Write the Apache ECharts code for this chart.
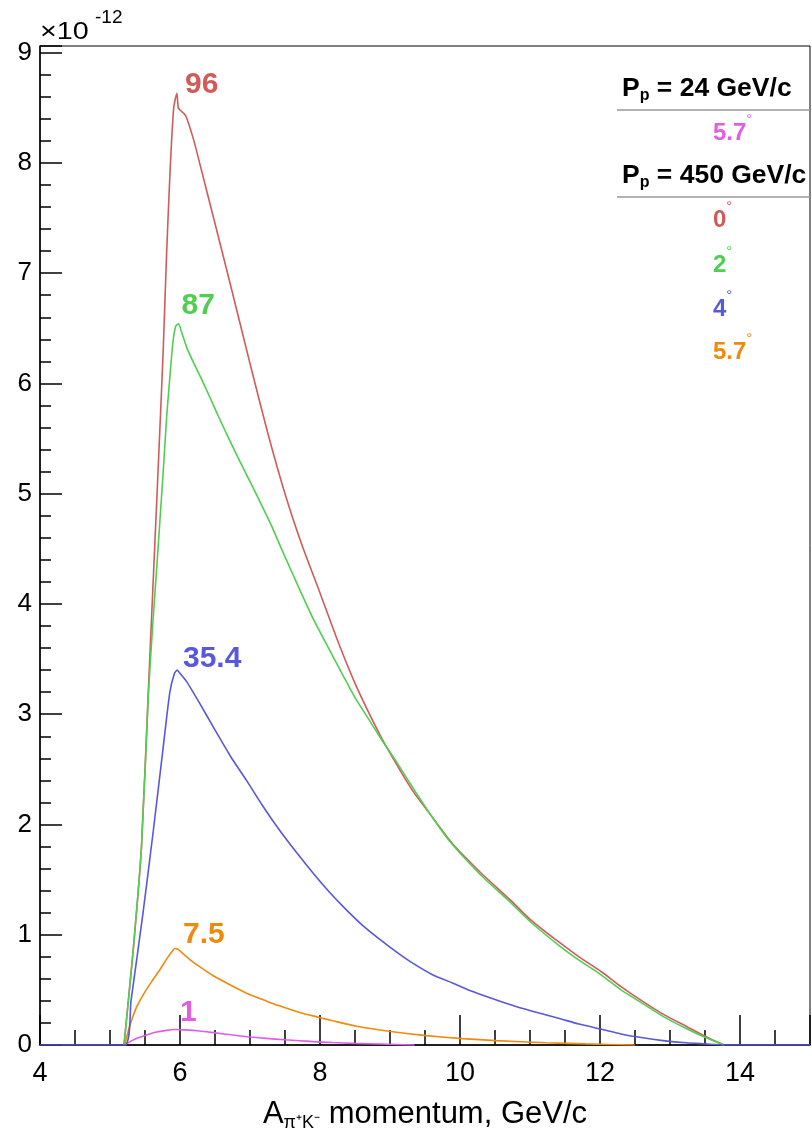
<!DOCTYPE html>
<html>
<head>
<meta charset="UTF-8">
<title>A momentum spectra</title>
<script src="https://cdn.jsdelivr.net/npm/echarts@6/dist/echarts.min.js"></script>
<style>
  html, body { margin: 0; padding: 0; background: #fff; }
  #main { width: 812px; height: 1131px; }
</style>
</head>
<body>
<div id="main"></div>
<script>
// yield (x 1e-12) vs A momentum (GeV/c)
const p24_deg57 = [[5.21,0],[5.3,0.035],[5.4,0.065],[5.52,0.09],[5.65,0.115],[5.81,0.133],[5.93,0.14],[6.05,0.137],[6.28,0.127],[6.5,0.11],[6.76,0.09],[6.95,0.075],[7.23,0.06],[7.5,0.047],[7.71,0.039],[7.9,0.031],[8.18,0.022],[8.5,0.015],[8.85,0.009],[9.1,0.005],[9.35,0]];
const p450_deg0 = [[5.2,0],[5.33,0.85],[5.45,1.8],[5.55,3.25],[5.62,4.25],[5.71,5.55],[5.76,6.3],[5.81,7.2],[5.86,7.95],[5.91,8.5],[5.955,8.63],[5.975,8.5],[6.0,8.48],[6.08,8.43],[6.19,8.22],[6.28,8.0],[6.5,7.45],[6.75,6.82],[7.0,6.18],[7.25,5.56],[7.5,5.0],[7.75,4.52],[8.0,4.1],[8.25,3.67],[8.5,3.28],[8.85,2.82],[9.09,2.55],[9.33,2.3],[9.6,2.07],[9.9,1.82],[10.3,1.56],[10.71,1.32],[11.0,1.14],[11.42,0.93],[11.7,0.8],[12.03,0.66],[12.3,0.53],[12.6,0.4],[12.9,0.28],[13.23,0.17],[13.5,0.08],[13.77,0]];
const p450_deg2 = [[5.2,0],[5.33,0.85],[5.45,1.8],[5.55,3.2],[5.62,3.9],[5.67,4.35],[5.76,5.2],[5.81,5.7],[5.85,6.02],[5.9,6.38],[5.94,6.52],[5.98,6.54],[6.02,6.47],[6.1,6.32],[6.2,6.18],[6.3,6.05],[6.43,5.87],[6.55,5.7],[6.66,5.55],[6.85,5.3],[7.0,5.11],[7.14,4.93],[7.3,4.72],[7.45,4.5],[7.71,4.13],[7.9,3.87],[8.18,3.53],[8.33,3.35],[8.5,3.15],[8.71,2.94],[8.9,2.75],[9.09,2.57],[9.37,2.29],[9.6,2.07],[9.85,1.85],[10.3,1.54],[10.71,1.3],[11.0,1.12],[11.42,0.9],[11.7,0.77],[12.03,0.63],[12.3,0.5],[12.6,0.38],[12.9,0.26],[13.23,0.15],[13.5,0.07],[13.77,0]];
const p450_deg4 = [[4,0],[5.21,0],[5.3,0.4],[5.47,1.19],[5.62,1.95],[5.76,2.7],[5.855,3.2],[5.92,3.37],[5.96,3.4],[6.0,3.37],[6.09,3.3],[6.28,3.1],[6.47,2.89],[6.73,2.61],[6.95,2.4],[7.18,2.17],[7.42,1.95],[7.66,1.75],[7.9,1.56],[8.13,1.39],[8.37,1.23],[8.6,1.09],[8.85,0.96],[9.1,0.84],[9.33,0.74],[9.6,0.64],[9.9,0.56],[10.2,0.48],[10.51,0.41],[10.8,0.35],[11.13,0.29],[11.42,0.24],[11.7,0.19],[12.04,0.14],[12.3,0.1],[12.61,0.065],[12.9,0.04],[13.23,0.02],[13.5,0.01],[13.77,0],[15,0]];
const p450_deg57 = [[5.21,0],[5.28,0.17],[5.37,0.33],[5.47,0.45],[5.59,0.57],[5.71,0.68],[5.82,0.79],[5.9,0.86],[5.93,0.875],[5.97,0.87],[6.04,0.83],[6.15,0.77],[6.28,0.71],[6.47,0.63],[6.76,0.53],[6.95,0.47],[7.23,0.4],[7.42,0.355],[7.71,0.295],[7.99,0.25],[8.18,0.22],[8.52,0.17],[9.04,0.12],[9.52,0.085],[10.04,0.058],[10.51,0.04],[11.23,0.02],[11.8,0.01],[12.5,0]];

const xTickLabels = [4, 6, 8, 10, 12, 14];
const yTickLabels = [0, 1, 2, 3, 4, 5, 6, 7, 8, 9];
const peakLabels = ['1', '96', '87', '35.4', '7.5'];
const beamMomenta = ['24', '450'];
const anglesAt24 = ['5.7'];
const anglesAt450 = ['0', '2', '4', '5.7'];

const colors = ['#e35ce6', '#d15b5b', '#4fcf4f', '#5858dc', '#ef8a0c'];
const FONT = "'Liberation Sans', Arial, sans-serif";

// where the peak numbers sit, in data coordinates
const peakLabelAt = [[6.12, 0.29], [6.31, 8.71], [6.26, 6.70], [6.46, 3.50], [6.34, 1.0]];

const seriesData = [p24_deg57, p450_deg0, p450_deg2, p450_deg57, p450_deg4];
const seriesColor = [colors[0], colors[1], colors[2], colors[4], colors[3]];
const seriesPeak = [0, 1, 2, 4, 3];

const chart = echarts.init(document.getElementById('main'));

const series = seriesData.map((d, i) => ({
  type: 'line',
  data: d,
  xAxisIndex: 0,
  yAxisIndex: 0,
  showSymbol: false,
  smooth: 0.2,
  lineStyle: { color: seriesColor[i], width: 1.6 },
  itemStyle: { color: seriesColor[i] },
  silent: true,
  markPoint: {
    symbol: 'circle',
    symbolSize: 1,
    itemStyle: { color: 'rgba(0,0,0,0)' },
    label: {
      show: true, position: 'inside', formatter: peakLabels[seriesPeak[i]],
      color: seriesColor[i], fontSize: 30, fontWeight: 'bold', fontFamily: FONT
    },
    data: [{ coord: peakLabelAt[seriesPeak[i]] }]
  }
}));

// legend block (drawn as text, like the original)
const legend = [];
const headStyle = {
  b: { fontSize: 26.5, fontWeight: 'bold', fontFamily: FONT, fill: '#000', lineHeight: 26, verticalAlign: 'top' },
  s: { fontSize: 16, fontWeight: 'bold', fontFamily: FONT, fill: '#000', lineHeight: 29, verticalAlign: 'bottom' }
};
function angleStyle(c) {
  return {
    v: { fontSize: 24, fontWeight: 'bold', fontFamily: FONT, fill: c, lineHeight: 33, verticalAlign: 'bottom' },
    d: { fontSize: 15, fontFamily: FONT, fill: c, lineHeight: 15, verticalAlign: 'top' }
  };
}
const headTop = [75, 162];
const lineY = [110, 197];
beamMomenta.forEach((p, k) => {
  legend.push({
    type: 'text', x: 622, y: headTop[k],
    style: { text: '{b|P}{s|p}{b| = ' + p + ' GeV/c}', rich: headStyle, verticalAlign: 'top' }
  });
  legend.push({
    type: 'line', shape: { x1: 617, y1: lineY[k], x2: 810, y2: lineY[k] },
    style: { stroke: '#999', lineWidth: 1.5 }
  });
});
const angleTop = [[112], [199, 244, 288, 331]];
[anglesAt24, anglesAt450].forEach((arr, k) => {
  arr.forEach((a, j) => {
    const c = k === 0 ? colors[0] : [colors[1], colors[2], colors[3], colors[4]][j];
    legend.push({
      type: 'text', x: 713, y: angleTop[k][j],
      style: { text: '{v|' + a + '}{d|°}', rich: angleStyle(c), verticalAlign: 'top' }
    });
  });
});

const option = {
  animation: false,
  backgroundColor: '#fff',
  grid: {
    left: 40, right: 2, top: 46, bottom: 86,
    containLabel: false, outerBoundsMode: 'none',
    show: true, borderColor: '#000', borderWidth: 1, backgroundColor: 'transparent'
  },
  xAxis: [
    {
      type: 'value', min: 4, max: 15, interval: 2, position: 'bottom',
      axisLine: { show: true, onZero: false, lineStyle: { color: '#000', width: 1.5 } },
      axisTick: { show: true, inside: true, length: 30, lineStyle: { color: '#000', width: 1.5 } },
      axisLabel: {
        fontSize: 27, color: '#000', fontFamily: FONT, margin: 15,
        formatter: v => (xTickLabels.includes(v) ? String(v) : '')
      },
      splitLine: { show: false },
      name: '{a|A}{s|π⁺K⁻}{a| momentum, GeV/c}',
      nameLocation: 'middle',
      nameGap: 54,
      nameTextStyle: {
        rich: {
          a: { fontSize: 31, fontFamily: FONT, color: '#000', lineHeight: 31, verticalAlign: 'top' },
          s: { fontSize: 18, fontFamily: FONT, color: '#000', lineHeight: 33, verticalAlign: 'bottom' }
        }
      }
    },
    {
      type: 'value', min: 4, max: 15, interval: 0.5, position: 'bottom',
      axisLine: { show: false, onZero: false },
      axisTick: { show: true, inside: true, length: 15, lineStyle: { color: '#000', width: 1.5 } },
      axisLabel: { show: false },
      splitLine: { show: false }
    }
  ],
  yAxis: [
    {
      type: 'value', min: 0, max: 9.06, interval: 1, position: 'left',
      axisLine: { show: true, onZero: false, lineStyle: { color: '#000', width: 1.5 } },
      axisTick: { show: true, inside: true, length: 22, lineStyle: { color: '#000', width: 1.5 } },
      axisLabel: {
        fontSize: 26, color: '#000', fontFamily: FONT, margin: 8,
        formatter: v => (yTickLabels.includes(v) ? String(v) : '')
      },
      splitLine: { show: false }
    },
    {
      type: 'value', min: 0, max: 9.06, interval: 0.2, position: 'left',
      axisLine: { show: false, onZero: false },
      axisTick: { show: true, inside: true, length: 11, lineStyle: { color: '#000', width: 1.5 } },
      axisLabel: { show: false },
      splitLine: { show: false }
    }
  ],
  series: series,
  graphic: legend.concat([
    { type: 'text', x: 40, y: 33, scaleX: 1.25, style: { text: '×10', fontSize: 23, fontFamily: FONT, fill: '#000', verticalAlign: 'middle' } },
    { type: 'text', x: 95, y: 18, style: { text: '-12', fontSize: 19, fontFamily: FONT, fill: '#000', verticalAlign: 'middle' } }
  ])
};

chart.setOption(option);
</script>
</body>
</html>
